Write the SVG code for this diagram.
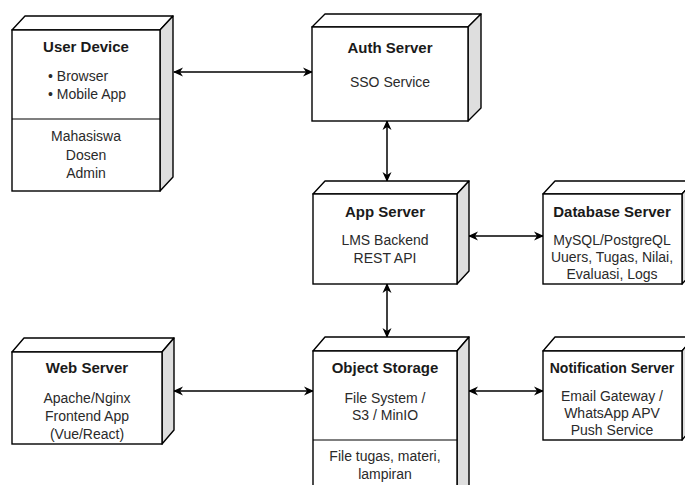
<svg xmlns="http://www.w3.org/2000/svg" width="685" height="485" viewBox="0 0 685 485">
<defs>
<style>
.front{fill:#ffffff;stroke:#000;stroke-width:1.4}
.top{fill:#ffffff;stroke:#000;stroke-width:1.4;stroke-linejoin:round}
.side{fill:#dedede;stroke:#000;stroke-width:1.4;stroke-linejoin:round}
.div{stroke:#000;stroke-width:1.2}
.t{font-family:"Liberation Sans",Arial,sans-serif;font-size:15px;font-weight:bold;fill:#1a1a1a;text-anchor:middle}
.b{font-family:"Liberation Sans",Arial,sans-serif;font-size:14px;fill:#2a2a2a;text-anchor:middle}
.bl{font-family:"Liberation Sans",Arial,sans-serif;font-size:14px;fill:#2a2a2a}
.c{fill:none;stroke:#000;stroke-width:1.5;marker-start:url(#ah);marker-end:url(#ah)}
</style>
<marker id="ah" viewBox="0 0 10 10" refX="9" refY="5" markerWidth="10" markerHeight="10" markerUnits="userSpaceOnUse" orient="auto-start-reverse">
<path d="M0,0.5 L10,5 L0,9.5 L3,5 z" fill="#000"/>
</marker>
</defs>
<rect width="685" height="485" fill="#ffffff"/>

<g id="connectors">
<line class="c" x1="174" y1="72" x2="312" y2="72"/>
<line class="c" x1="387" y1="121" x2="387" y2="181"/>
<line class="c" x1="469" y1="236" x2="543" y2="236"/>
<line class="c" x1="387" y1="284" x2="387" y2="337"/>
<line class="c" x1="174" y1="391" x2="313" y2="391"/>
<line class="c" x1="469" y1="391" x2="543" y2="391"/>
</g>

<g id="user-device">
<polygon class="top" points="12,30 25,16 173,16 160,30"/>
<polygon class="side" points="160,30 173,16 173,177 160,191"/>
<rect class="front" x="12" y="30" width="148" height="161"/>
<line class="div" x1="12" y1="119" x2="160" y2="119"/>
<text class="t" x="86" y="52">User Device</text>
<text class="bl" x="48" y="81">• Browser</text>
<text class="bl" x="48" y="99">• Mobile App</text>
<text class="b" x="86" y="141">Mahasiswa</text>
<text class="b" x="86" y="160">Dosen</text>
<text class="b" x="86" y="178">Admin</text>
</g>

<g id="auth-server">
<polygon class="top" points="312,27 325,14 481,14 468,27"/>
<polygon class="side" points="468,27 481,14 481,108 468,121"/>
<rect class="front" x="312" y="27" width="156" height="94"/>
<text class="t" x="390" y="53">Auth Server</text>
<text class="b" x="390" y="87">SSO Service</text>
</g>

<g id="app-server">
<polygon class="top" points="313,194 325,181 469,181 457,194"/>
<polygon class="side" points="457,194 469,181 469,271 457,284"/>
<rect class="front" x="313" y="194" width="144" height="90"/>
<text class="t" x="385" y="217">App Server</text>
<text class="b" x="385" y="245">LMS Backend</text>
<text class="b" x="385" y="263">REST API</text>
</g>

<g id="database-server">
<polygon class="top" points="543,194 555,181 694,181 682,194"/>
<polygon class="side" points="682,194 694,181 694,271 682,284"/>
<rect class="front" x="543" y="194" width="139" height="90"/>
<text class="t" x="612" y="217">Database Server</text>
<text class="b" x="612" y="245">MySQL/PostgreQL</text>
<text class="b" x="612" y="262">Uuers, Tugas, Nilai,</text>
<text class="b" x="612" y="279">Evaluasi, Logs</text>
</g>

<g id="web-server">
<polygon class="top" points="12,352 24,338 174,338 162,352"/>
<polygon class="side" points="162,352 174,338 174,430 162,444"/>
<rect class="front" x="12" y="352" width="150" height="92"/>
<text class="t" x="87" y="373">Web Server</text>
<text class="b" x="87" y="403">Apache/Nginx</text>
<text class="b" x="87" y="421">Frontend App</text>
<text class="b" x="87" y="439">(Vue/React)</text>
</g>

<g id="object-storage">
<polygon class="top" points="313,351 325,337 469,337 457,351"/>
<polygon class="side" points="457,351 469,337 469,492 457,506"/>
<rect class="front" x="313" y="351" width="144" height="155"/>
<line class="div" x1="313" y1="440" x2="457" y2="440"/>
<text class="t" x="385" y="373">Object Storage</text>
<text class="b" x="385" y="403">File System /</text>
<text class="b" x="385" y="420">S3 / MinIO</text>
<text class="b" x="385" y="461">File tugas, materi,</text>
<text class="b" x="385" y="479">lampiran</text>
</g>

<g id="notification-server">
<polygon class="top" points="543,351 555,337 694,337 682,351"/>
<polygon class="side" points="682,351 694,337 694,426 682,440"/>
<rect class="front" x="543" y="351" width="139" height="89"/>
<text class="t" x="612" y="373" style="font-size:14px">Notification Server</text>
<text class="b" x="612" y="401">Email Gateway /</text>
<text class="b" x="612" y="418">WhatsApp APV</text>
<text class="b" x="612" y="435">Push Service</text>
</g>
</svg>
